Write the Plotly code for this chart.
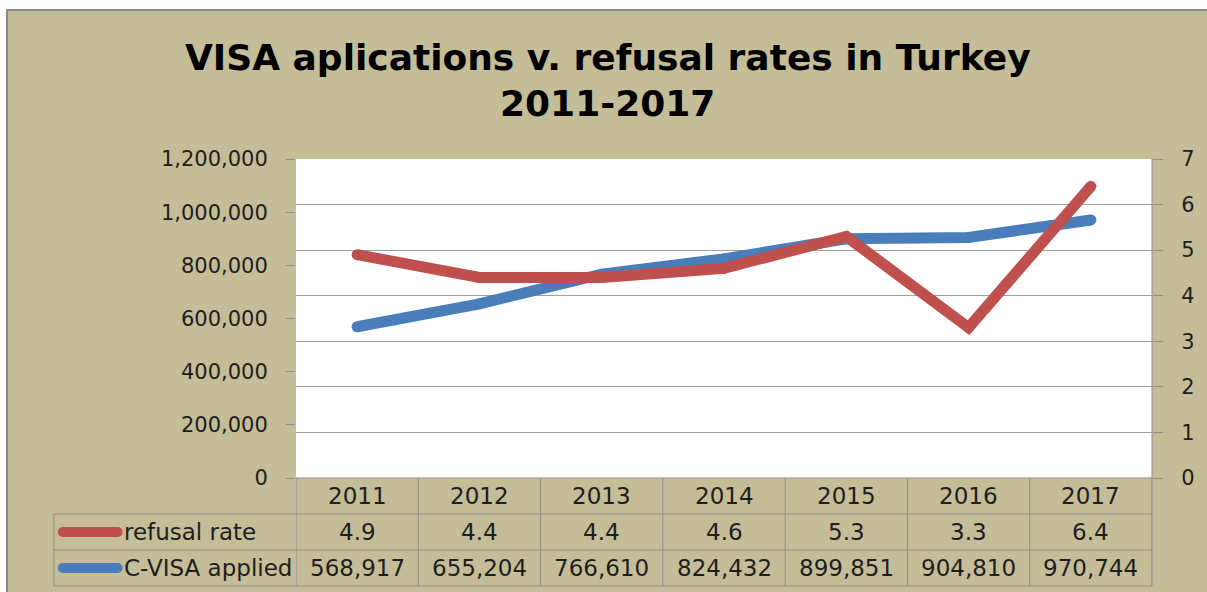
import plotly.graph_objects as go

# ---------------- data ----------------
years = ["2011", "2012", "2013", "2014", "2015", "2016", "2017"]
refusal_rate = [4.9, 4.4, 4.4, 4.6, 5.3, 3.3, 6.4]
cvisa_applied = [568917, 655204, 766610, 824432, 899851, 904810, 970744]
left_ticks = [0, 200000, 400000, 600000, 800000, 1000000, 1200000]
right_ticks = [0, 1, 2, 3, 4, 5, 6, 7]
series_names = ["refusal rate", "C-VISA applied"]
title_lines = ["VISA aplications v. refusal rates in Turkey", "2011-2017"]

# ---------------- style ----------------
W, H = 1207, 592
L, R, T, B = 296, 1155, 159, 478
TAN = "#C4BD97"
RED = "#C0504D"
BLUE = "#4A7EBB"
GRID = "#A0A0A0"
TLINE = "#8E8E8E"
TXT = "#1E1E1E"
FONT = "DejaVu Sans"


def px(x):
    return (x - L) / (R - L)


def py(y):
    return (B - y) / (B - T)


fig = go.Figure()
fig.add_trace(go.Scatter(
    x=years, y=cvisa_applied, name=series_names[1], yaxis="y",
    mode="lines+markers", line=dict(color=BLUE, width=11),
    marker=dict(size=11, color=BLUE), cliponaxis=False, showlegend=False))
fig.add_trace(go.Scatter(
    x=years, y=refusal_rate, name=series_names[0], yaxis="y2",
    mode="lines+markers", line=dict(color=RED, width=11),
    marker=dict(size=11, color=RED), cliponaxis=False, showlegend=False))

shapes = []
annotations = []

# outer white strips + frame
shapes.append(dict(type="rect", xref="paper", yref="paper", x0=px(-20), x1=px(1300),
                   y0=py(9), y1=py(-20), fillcolor="white", line=dict(width=0), layer="above"))
shapes.append(dict(type="rect", xref="paper", yref="paper", x0=px(-20), x1=px(5),
                   y0=py(700), y1=py(-20), fillcolor="white", line=dict(width=0), layer="above"))
shapes.append(dict(type="line", xref="paper", yref="paper", x0=px(6), x1=px(1300),
                   y0=py(10), y1=py(10), line=dict(color="#8A8A8A", width=2)))
shapes.append(dict(type="line", xref="paper", yref="paper", x0=px(6), x1=px(6),
                   y0=py(10), y1=py(700), line=dict(color="#8A8A8A", width=2)))

# plot right border
shapes.append(dict(type="line", xref="paper", yref="paper", x0=1, x1=1,
                   y0=py(586), y1=1, line=dict(color=TLINE, width=1)))

# data table grid
n = len(years)
row_tops = [478, 514, 550, 586]
for i, yy in enumerate(row_tops):
    x_start = L if i == 0 else 53
    shapes.append(dict(type="line", xref="paper", yref="paper", x0=px(x_start), x1=1,
                       y0=py(yy), y1=py(yy), line=dict(color=TLINE, width=1)))
shapes.append(dict(type="line", xref="paper", yref="paper", x0=px(53), x1=px(53),
                   y0=py(514), y1=py(586), line=dict(color=TLINE, width=1)))
for k in range(n + 1):
    shapes.append(dict(type="line", xref="x", yref="paper", x0=k - 0.5, x1=k - 0.5,
                       y0=py(478), y1=py(586), line=dict(color=TLINE, width=1)))

# legend keys in table
for color, yy in [(RED, 532), (BLUE, 568)]:
    shapes.append(dict(type="line", xref="paper", yref="paper", x0=px(62), x1=px(117),
                       y0=py(yy), y1=py(yy), line=dict(color=color, width=10)))
    for xx in (62, 117):
        shapes.append(dict(type="circle", xref="paper", yref="paper",
                           xsizemode="pixel", ysizemode="pixel",
                           xanchor=px(xx), yanchor=py(yy), x0=-5, x1=5, y0=-5, y1=5,
                           fillcolor=color, line=dict(width=0)))

tfont = dict(family=FONT, size=23, color=TXT)
for i, yr in enumerate(years):
    annotations.append(dict(xref="x", yref="paper", x=i, y=py(496), text=yr,
                            showarrow=False, font=tfont, xanchor="center", yanchor="middle"))
    annotations.append(dict(xref="x", yref="paper", x=i, y=py(532), text=f"{refusal_rate[i]:.1f}",
                            showarrow=False, font=tfont, xanchor="center", yanchor="middle"))
    annotations.append(dict(xref="x", yref="paper", x=i, y=py(568), text=f"{cvisa_applied[i]:,}",
                            showarrow=False, font=tfont, xanchor="center", yanchor="middle"))
for name, yy in zip(series_names, [532, 568]):
    annotations.append(dict(xref="paper", yref="paper", x=px(121), y=py(yy), text=name,
                            showarrow=False, font=tfont, xanchor="left", yanchor="middle"))

# title
for line, yy in zip(title_lines, [57, 103]):
    annotations.append(dict(xref="paper", yref="paper", x=px(609), y=py(yy),
                            text=f"<b>{line}</b>", showarrow=False,
                            font=dict(family=FONT, size=36, color="#000000"),
                            xanchor="center", yanchor="middle"))

fig.update_layout(
    width=W, height=H,
    margin=dict(l=L, r=W - R, t=T, b=H - B, pad=0),
    paper_bgcolor=TAN, plot_bgcolor="white",
    showlegend=False,
    xaxis=dict(type="category", range=[-0.5, n - 0.5], showticklabels=False,
               showgrid=False, zeroline=False, showline=False, ticks=""),
    yaxis=dict(range=[0, 1200000], tickvals=left_ticks,
               ticktext=[f"{v:,}" for v in left_ticks],
               ticks="outside", ticklen=9, tickcolor=TLINE, tickwidth=1,
               showgrid=False, zeroline=False, showline=False,
               tickfont=dict(family=FONT, size=21, color=TXT), ticklabelstandoff=14),
    yaxis2=dict(range=[0, 7], tickvals=right_ticks, overlaying="y", side="right",
                ticks="outside", ticklen=10, tickcolor=TLINE, tickwidth=1,
                showgrid=True, gridcolor=GRID, gridwidth=1, zeroline=False, showline=False,
                tickfont=dict(family=FONT, size=21, color=TXT), ticklabelstandoff=14),
    shapes=shapes, annotations=annotations,
)

fig.write_html("out.html")
